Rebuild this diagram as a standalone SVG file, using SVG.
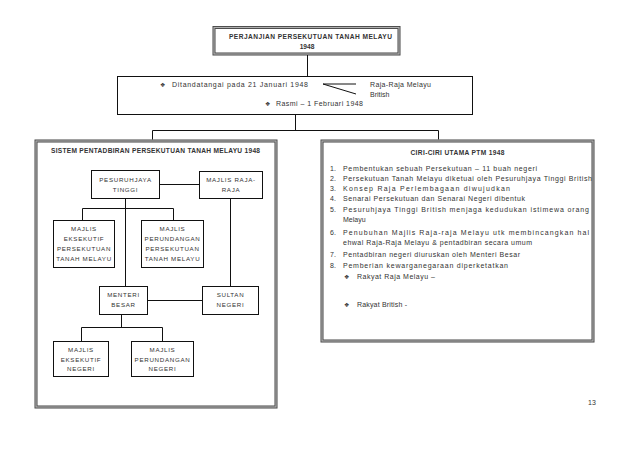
<svg xmlns="http://www.w3.org/2000/svg" width="638" height="452" viewBox="0 0 638 452">
<style>
text{font-family:"Liberation Sans",Arial,sans-serif;fill:#333;font-size:7px}
.b{font-weight:bold;font-size:6.6px}
.n{font-size:6.2px;letter-spacing:0.7px;text-anchor:middle}
.bul{font-family:"DejaVu Sans",sans-serif;font-size:6px}
.frame1{fill:none;stroke:#444;stroke-width:3}
.frame2{fill:none;stroke:#b0b0b0;stroke-width:1.2}
.box{fill:#fff;stroke:#111;stroke-width:1}
.ln{fill:none;stroke:#111;stroke-width:1}
</style>
<rect width="638" height="452" fill="#fff"/>
<g id="title">
<rect class="frame1" x="214" y="27.5" width="185" height="26.5"/>
<rect class="frame2" x="214" y="27.5" width="185" height="26.5"/>
<text class="b" x="229" y="39" textLength="163" lengthAdjust="spacing">PERJANJIAN PERSEKUTUAN TANAH MELAYU</text>
<text class="b" x="307" y="49.3" text-anchor="middle">1948</text>
</g>
<g id="info">
<rect class="box" x="117.5" y="76.5" width="355" height="38"/>
<text class="bul" x="160" y="86.5">❖</text>
<text x="172" y="86.5" textLength="136" lengthAdjust="spacing">Ditandatangai pada 21 Januari 1948</text>
<text x="370" y="86.5" textLength="61" lengthAdjust="spacing">Raja-Raja Melayu</text>
<text x="370" y="96.5">British</text>
<text class="bul" x="265" y="106">❖</text>
<text x="276" y="106" textLength="87" lengthAdjust="spacing">Rasmi – 1 Februari 1948</text>
</g>
<g id="sistem">
<rect class="frame1" x="36" y="141" width="240" height="266"/>
<rect class="frame2" x="36" y="141" width="240" height="266"/>
<text class="b" x="51" y="152.5" textLength="209" lengthAdjust="spacing">SISTEM PENTADBIRAN  PERSEKUTUAN TANAH MELAYU 1948</text>
</g>
<g id="connectors">
<path class="ln" d="M307.5 55V76.5"/>
<path class="ln" d="M295.5 114.5V130.5M152.5 130.5H438.5M152.5 130.5V139.5M438.5 130.5V139.5"/>
<path class="ln" d="M323 84H356M323 84L356 94"/>
<path class="ln" d="M159 184.5H199"/>
<path class="ln" d="M125.5 198V286"/>
<path class="ln" d="M82.5 220V208.5H173.5V220"/>
<path class="ln" d="M230.5 198V286"/>
<path class="ln" d="M147 300.5H202"/>
<path class="ln" d="M121.5 314V327.5M81.5 341V327.5H162.5V341"/>
</g>
<g id="pesuruhjaya">
<rect class="box" x="91.5" y="170.5" width="68" height="28"/>
<text class="n" x="125.5" y="181.5">PESURUHJAYA</text>
<text class="n" x="125.5" y="191.5">TINGGI</text>
</g>
<g id="majlis-raja">
<rect class="box" x="199.5" y="171.5" width="63" height="27"/>
<text class="n" x="231" y="181.5">MAJLIS RAJA-</text>
<text class="n" x="231" y="191.5">RAJA</text>
</g>
<g id="majlis-eksekutif-persekutuan">
<rect class="box" x="53.5" y="220.5" width="61" height="47"/>
<text class="n" x="84" y="231">MAJLIS</text>
<text class="n" x="84" y="241">EKSEKUTIF</text>
<text class="n" x="84" y="251">PERSEKUTUAN</text>
<text class="n" x="84" y="261">TANAH MELAYU</text>
</g>
<g id="majlis-perundangan-persekutuan">
<rect class="box" x="141.5" y="220.5" width="62" height="47"/>
<text class="n" x="172.5" y="231">MAJLIS</text>
<text class="n" x="172.5" y="241">PERUNDANGAN</text>
<text class="n" x="172.5" y="251">PERSEKUTUAN</text>
<text class="n" x="172.5" y="261">TANAH MELAYU</text>
</g>
<g id="menteri-besar">
<rect class="box" x="99.5" y="286.5" width="48" height="28"/>
<text class="n" x="123.5" y="297">MENTERI</text>
<text class="n" x="123.5" y="306.5">BESAR</text>
</g>
<g id="sultan-negeri">
<rect class="box" x="202.5" y="286.5" width="56" height="28"/>
<text class="n" x="230.5" y="297">SULTAN</text>
<text class="n" x="230.5" y="306.5">NEGERI</text>
</g>
<g id="majlis-eksekutif-negeri">
<rect class="box" x="53.5" y="341.5" width="55" height="35"/>
<text class="n" x="81" y="352">MAJLIS</text>
<text class="n" x="81" y="361.5">EKSEKUTIF</text>
<text class="n" x="81" y="371">NEGERI</text>
</g>
<g id="majlis-perundangan-negeri">
<rect class="box" x="131.5" y="341.5" width="62" height="35"/>
<text class="n" x="162.5" y="352">MAJLIS</text>
<text class="n" x="162.5" y="361.5">PERUNDANGAN</text>
<text class="n" x="162.5" y="371">NEGERI</text>
</g>
<g id="ciri-ciri">
<rect class="frame1" x="322" y="141" width="271" height="200"/>
<rect class="frame2" x="322" y="141" width="271" height="200"/>
<text class="b" x="457.5" y="154.5" text-anchor="middle" textLength="94" lengthAdjust="spacing">CIRI-CIRI UTAMA PTM 1948</text>
<text x="330" y="170.5">1.</text><text x="343" y="170.5" textLength="194" lengthAdjust="spacing">Pembentukan sebuah Persekutuan – 11 buah negeri</text>
<text x="330" y="180.5">2.</text><text x="343" y="180.5" textLength="249" lengthAdjust="spacing">Persekutuan Tanah Melayu diketuai oleh Pesuruhjaya Tinggi British</text>
<text x="330" y="190.5">3.</text><text x="343" y="190.5" textLength="167" lengthAdjust="spacing">Konsep Raja Perlembagaan diwujudkan</text>
<text x="330" y="200.5">4.</text><text x="343" y="200.5" textLength="182" lengthAdjust="spacing">Senarai Persekutuan dan Senarai Negeri dibentuk</text>
<text x="330" y="211.5">5.</text><text x="343" y="211.5" textLength="246" lengthAdjust="spacing">Pesuruhjaya Tinggi British menjaga kedudukan istimewa orang</text>
<text x="343" y="222">Melayu</text>
<text x="330" y="234.5">6.</text><text x="343" y="234.5" textLength="246" lengthAdjust="spacing">Penubuhan Majlis Raja-raja Melayu utk membincangkan hal</text>
<text x="343" y="245" textLength="189" lengthAdjust="spacing">ehwal Raja-Raja Melayu &amp; pentadbiran secara umum</text>
<text x="330" y="257">7.</text><text x="343" y="257" textLength="177" lengthAdjust="spacing">Pentadbiran negeri diuruskan oleh Menteri Besar</text>
<text x="330" y="267.5">8.</text><text x="343" y="267.5" textLength="165" lengthAdjust="spacing">Pemberian kewarganegaraan diperketatkan</text>
<text class="bul" x="344" y="278.5">❖</text>
<text x="357" y="278.5" textLength="78" lengthAdjust="spacing">Rakyat Raja Melayu  –</text>
<text class="bul" x="344" y="306.5">❖</text>
<text x="357" y="306.5" textLength="50" lengthAdjust="spacing">Rakyat British -</text>
</g>
<text x="592" y="404.5" text-anchor="middle" font-size="6.5">13</text>
</svg>
